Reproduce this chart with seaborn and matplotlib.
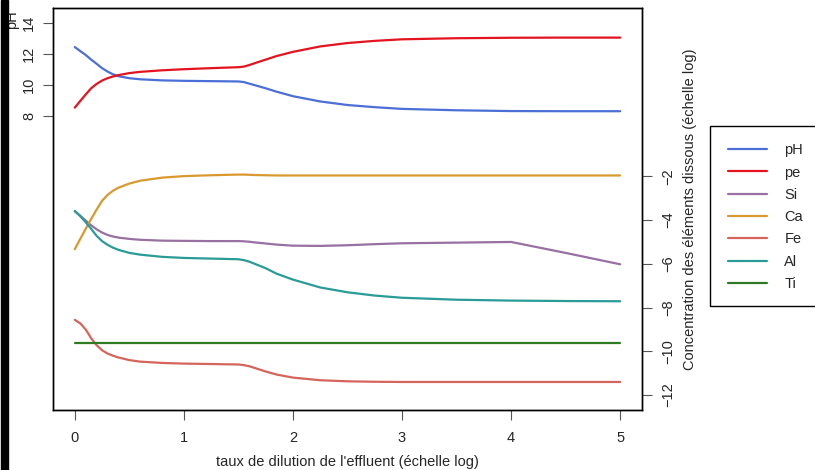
import numpy as np
import pandas as pd
import matplotlib
matplotlib.use("Agg")
import matplotlib.pyplot as plt
from matplotlib.patches import Rectangle
import seaborn as sns

# ─────────────────────────────────────────────
# Data
# ─────────────────────────────────────────────

dilution = [0, 0.05, 0.1, 0.15, 0.2, 0.25, 0.3, 0.35, 0.4, 0.5, 0.6, 0.8, 1.0, 1.25,
            1.5, 1.55, 1.6, 1.65, 1.75, 1.85, 2.0, 2.25, 2.5, 2.75, 3.0, 3.5, 4.0, 4.5, 5.0]

ph = [12.46, 12.2, 11.95, 11.65, 11.38, 11.1, 10.88, 10.7, 10.58, 10.45, 10.38, 10.31,
      10.28, 10.26, 10.24, 10.2, 10.1, 10.0, 9.8, 9.58, 9.29, 8.95, 8.72, 8.58, 8.47,
      8.38, 8.33, 8.32, 8.32]
pe = [8.55, 8.98, 9.4, 9.8, 10.08, 10.3, 10.45, 10.56, 10.65, 10.78, 10.86, 10.96,
      11.03, 11.1, 11.16, 11.2, 11.3, 11.42, 11.65, 11.88, 12.15, 12.5, 12.72, 12.86,
      12.96, 13.03, 13.06, 13.07, 13.07]

si = [-3.59, -3.8, -4.02, -4.24, -4.42, -4.57, -4.68, -4.75, -4.8, -4.86, -4.9, -4.94,
      -4.95, -4.96, -4.96, -4.97, -4.99, -5.02, -5.07, -5.12, -5.17, -5.18, -5.15, -5.1,
      -5.06, -5.03, -5.0, -5.5, -6.02]
ca = [-5.33, -4.86, -4.4, -3.95, -3.52, -3.12, -2.85, -2.66, -2.52, -2.33, -2.2, -2.06,
      -1.99, -1.95, -1.92, -1.92, -1.93, -1.94, -1.95, -1.96, -1.96, -1.96, -1.96, -1.96,
      -1.96, -1.96, -1.96, -1.96, -1.96]
fe = [-8.56, -8.72, -9.0, -9.4, -9.72, -9.95, -10.1, -10.2, -10.28, -10.4, -10.47, -10.53,
      -10.56, -10.58, -10.6, -10.63, -10.68, -10.76, -10.92, -11.06, -11.2, -11.32, -11.37,
      -11.39, -11.4, -11.4, -11.4, -11.4, -11.4]
al = [-3.59, -3.82, -4.1, -4.4, -4.72, -4.96, -5.13, -5.26, -5.36, -5.5, -5.58, -5.68,
      -5.73, -5.76, -5.79, -5.83, -5.9, -6.0, -6.2, -6.45, -6.72, -7.08, -7.3, -7.45,
      -7.55, -7.64, -7.68, -7.7, -7.71]
ti = [-9.6] * len(dilution)

labels = ['pH', 'pe', 'Si', 'Ca', 'Fe', 'Al', 'Ti']
colors = {'pH': '#4B6FD6', 'pe': '#E3141F', 'Si': '#9870A2', 'Ca': '#D89A2E',
          'Fe': '#D5645A', 'Al': '#2A9C98', 'Ti': '#2F7A24'}

left_df = pd.DataFrame({'x': dilution * 2, 'val': ph + pe,
                        'var': ['pH'] * len(dilution) + ['pe'] * len(dilution)})
right_vals = {'Si': si, 'Ca': ca, 'Fe': fe, 'Al': al, 'Ti': ti}
right_df = pd.concat([pd.DataFrame({'x': dilution, 'val': v, 'var': k})
                      for k, v in right_vals.items()], ignore_index=True)

# ─────────────────────────────────────────────
# Plot
# ─────────────────────────────────────────────

sns.set_style("ticks")
plt.rcParams['font.family'] = ['Liberation Sans', 'DejaVu Sans']
FS = 10.5

fig = plt.figure(figsize=(8.15, 4.7), dpi=100)
ax1 = fig.add_axes([0.065, 0.1277, 0.7227, 0.8546])
ax2 = ax1.twinx()

sns.lineplot(data=left_df, x='x', y='val', hue='var', palette=colors,
             ax=ax1, legend=False, linewidth=1.6)
sns.lineplot(data=right_df, x='x', y='val', hue='var', palette=colors,
             ax=ax2, legend=False, linewidth=1.6)

ax1.set_xlim(-0.2, 5.2)
ax1.set_ylim(-10.96, 14.96)
ax2.set_ylim(-12.68, 5.68)
ax1.set_xticks(range(6))
ax1.set_yticks([8, 10, 12, 14])
ax2.set_yticks([-2, -4, -6, -8, -10, -12])

for ax in (ax1, ax2):
    for s in ax.spines.values():
        s.set_color('black')
        s.set_linewidth(1.0)
    ax.tick_params(length=7, width=0.8, color='#555555', labelsize=FS)
    ax.set_ylabel('')
ax1.tick_params(axis='x', pad=8)
ax1.tick_params(axis='y', labelrotation=90, pad=5)
ax2.tick_params(axis='y', labelrotation=90, pad=7)
for t in ax1.get_yticklabels() + ax2.get_yticklabels():
    t.set_va('center')

ax1.set_xlabel("taux de dilution de l'effluent (échelle log)", fontsize=FS, labelpad=7)
ax2.set_ylabel("Concentration des éléments dissous (échelle log)", fontsize=FS,
               labelpad=5.5, rotation=90)
fig.text(12 / 815, 1 - 20 / 470, 'pH', rotation=90, ha='center', va='center', fontsize=FS)

# legend outside on the right; its box runs past the figure edge, as in the reference
handles = [plt.Line2D([], [], color=colors[k], linewidth=1.6) for k in labels]
fig.legend(handles, labels, loc='upper left', bbox_to_anchor=(710 / 815, 1 - 125.7 / 470),
           borderaxespad=0, frameon=False, fontsize=FS,
           handlelength=2.7, handletextpad=1.2, labelspacing=0.57, borderpad=1.2)
fig.add_artist(Rectangle((710 / 815, 1 - 306 / 470), 130 / 815, 180.3 / 470,
                         transform=fig.transFigure, fill=False, edgecolor='black',
                         linewidth=1.0))

# black bar along the left edge of the screenshot
fig.add_artist(Rectangle((0.001, 0), 7 / 815, 1, transform=fig.transFigure,
                         color='black', zorder=10))

fig.savefig('out.png', dpi=100)
